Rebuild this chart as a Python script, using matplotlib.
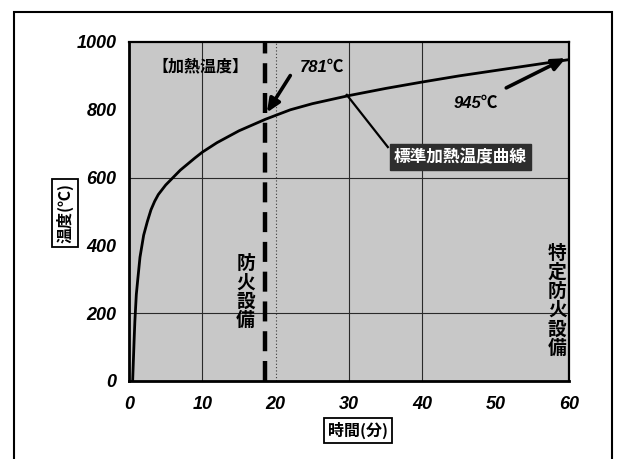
"""Standard fire-resistance heating curve (標準加熱温度曲線), redrawn from a scanned chart."""
import matplotlib
matplotlib.use('Agg')
import matplotlib.pyplot as plt
import matplotlib.patches as mpatches

plt.rcParams['font.family'] = ['Noto Sans CJK JP', 'DejaVu Sans']

# ── Data ──────────────────────────────────────────────────────────────────────
TIME_MIN = [0.5, 0.6, 0.7, 0.8, 1.0, 1.2, 1.5, 2.0, 2.5, 3.0, 3.5, 4.0, 5.0, 6.0,
            7.0, 8.0, 9.0, 10, 12, 15, 18.6, 22, 25, 30, 35, 40, 45, 50, 55, 60]
TEMP_C   = [0, 60, 120, 175, 255, 300, 365, 430, 470, 505, 530, 550, 578, 600,
            622, 640, 658, 675, 703, 738, 772, 800, 818, 842, 863, 882, 900, 916, 932, 948]

X_TICKS = [0, 10, 20, 30, 40, 50, 60]
Y_TICKS = [0, 200, 400, 600, 800, 1000]
GRID_X  = [10, 30, 40]
GRID_X_FAINT = [20]
GRID_Y  = [200, 600]
FIRE_DOOR_MIN = 18.6     # dashed line as drawn

LABEL_781 = '781℃'
LABEL_945 = '945℃'

# ── Figure ────────────────────────────────────────────────────────────────────
fig = plt.figure(figsize=(6.21, 4.59), dpi=100)
fig.patch.set_facecolor('white')
ax = fig.add_axes([0.2077, 0.170, 0.7086, 0.7385])
ax.set_facecolor('#c8c8c8')

for gx in GRID_X:
    ax.axvline(gx, color='#2a2a2a', lw=0.8, zorder=1)
for gx in GRID_X_FAINT:
    ax.axvline(gx, color='#3a3a3a', lw=0.8, ls=(0, (1, 2)), zorder=1)
for gy in GRID_Y:
    ax.axhline(gy, color='#2a2a2a', lw=0.8, zorder=1)

ax.plot(TIME_MIN, TEMP_C, color='black', lw=2.0, zorder=3,
        solid_capstyle='round', solid_joinstyle='round')
ax.axvline(FIRE_DOOR_MIN, color='black', lw=3.2, ls=(0, (4.5, 2.2)), zorder=4)

ax.set_xlim(0, 60)
ax.set_ylim(0, 1000)
ax.set_xticks(X_TICKS)
ax.set_yticks(Y_TICKS)
tick_font = dict(family='Liberation Sans', weight='bold', style='italic', size=13)
ax.set_xticklabels([str(v) for v in X_TICKS], **tick_font)
ax.set_yticklabels([str(v) for v in Y_TICKS], **tick_font)
ax.tick_params(length=0)
ax.tick_params(axis='x', pad=11)
ax.tick_params(axis='y', pad=9)
for side in ['left', 'bottom']:
    ax.spines[side].set_linewidth(2.0)
for side in ['top', 'right']:
    ax.spines[side].set_linewidth(1.6)

# ── Annotations ───────────────────────────────────────────────────────────────
ax.text(9.7, 929, '【加熱温度】', ha='center', va='center', fontsize=11.5, weight='bold')

ax.text(26.3, 926, LABEL_781, ha='center', va='center', fontsize=12, weight='bold',
        family=['Liberation Sans', 'Noto Sans CJK JP'], style='italic')
ax.annotate('', xy=(18.6, 785), xytext=(22.2, 908),
            arrowprops=dict(arrowstyle='-|>,head_length=0.8,head_width=0.35',
                            color='black', lw=2.6))

ax.text(47.3, 820, LABEL_945, ha='center', va='center', fontsize=12, weight='bold',
        family=['Liberation Sans', 'Noto Sans CJK JP'], style='italic')
ax.annotate('', xy=(59.9, 956), xytext=(51.1, 861),
            arrowprops=dict(arrowstyle='-|>,head_length=0.8,head_width=0.35',
                            color='black', lw=2.6))

ax.plot([29.7, 35.3], [844, 690], color='black', lw=1.6, zorder=3)
ax.text(45.2, 661, '標準加熱温度曲線', ha='center', va='center', fontsize=12,
        weight='bold', color='white',
        bbox=dict(boxstyle='square,pad=0.22', fc='#2e2e2e', ec='#2e2e2e'))

ax.text(15.9, 262, '防\n火\n設\n備', ha='center', va='center', fontsize=13.5,
        weight='bold', linespacing=1.0)
ax.text(58.4, 236, '特\n定\n防\n火\n設\n備', ha='center', va='center', fontsize=13.5,
        weight='bold', linespacing=1.0)

# axis titles in framed boxes
fig.text(0.1047, 0.536, '温度(℃)', rotation=90, ha='center', va='center',
         fontsize=11.5, weight='bold',
         bbox=dict(boxstyle='square,pad=0.25', fc='white', ec='black', lw=1.3))
fig.text(0.5765, 0.063, '時間(分)', ha='center', va='center',
         fontsize=11.5, weight='bold',
         bbox=dict(boxstyle='square,pad=0.25', fc='white', ec='black', lw=1.3))

# outer frame of the scanned figure (bottom edge falls outside the image)
frame = mpatches.Rectangle((14 / 621, -0.05), (612 - 14) / 621, 1.0 - 12 / 459 + 0.05,
                           transform=fig.transFigure, fill=False, ec='black', lw=1.5,
                           clip_on=False)
fig.add_artist(frame)

fig.savefig('out.png', dpi=100)
